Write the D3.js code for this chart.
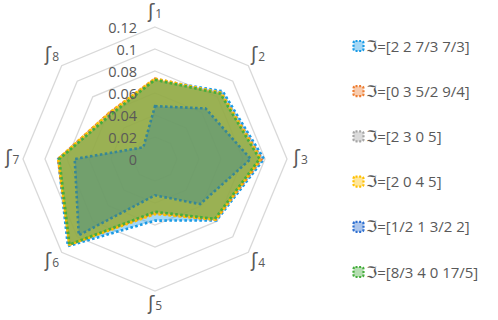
<!DOCTYPE html>
<html><head><meta charset="utf-8">
<script src="https://cdn.jsdelivr.net/npm/d3@7"></script>
<style>
html,body{margin:0;padding:0;background:#fff;}
svg{display:block;font-family:"Open Sans","Noto Sans",sans-serif;}
</style></head>
<body><svg id="c" width="498" height="320"></svg>
<script>
const axes = ["ʃ1","ʃ2","ʃ3","ʃ4","ʃ5","ʃ6","ʃ7","ʃ8"];
const ticks = [0, 0.02, 0.04, 0.06, 0.08, 0.1, 0.12];
const tickLabels = ["0","0.02","0.04","0.06","0.08","0.1","0.12"];
const seriesNames = ["ℑ=[2 2 7/3 7/3]","ℑ=[0 3 5/2 9/4]","ℑ=[2 3 0 5]","ℑ=[2 0 4 5]","ℑ=[1/2 1 3/2 2]","ℑ=[8/3 4 0 17/5]"];
const s1 = [0.072, 0.087, 0.099, 0.079, 0.056, 0.112, 0.088, 0.056];
const s2 = [0.073, 0.085, 0.097, 0.078, 0.049, 0.110, 0.088, 0.059];
const s3 = [0.072, 0.085, 0.096, 0.077, 0.049, 0.109, 0.087, 0.058];
const s4 = [0.073, 0.085, 0.096, 0.078, 0.050, 0.110, 0.088, 0.059];
const s5 = [0.048, 0.065, 0.087, 0.058, 0.033, 0.098, 0.073, 0.015];
const s6 = [0.072, 0.084, 0.095, 0.077, 0.048, 0.110, 0.087, 0.057];
const seriesValues = [s1, s2, s3, s4, s5, s6];
const colors = ["#1a9be6","#ed7d31","#a5a5a5","#ffc000","#2e6fd0","#45ad3c"];

const svg = d3.select("#c");
const cx = 155, cy = 159, R = 132;
const r = d3.scaleLinear().domain([0, 0.12]).range([0, R]);
const ang = d3.scalePoint().domain(d3.range(axes.length)).range([0, 2*Math.PI*(axes.length-1)/axes.length]);
const g = svg.append("g").attr("transform", `translate(${cx},${cy})`);
const pt = (i, v) => [r(v)*Math.sin(ang(i)), -r(v)*Math.cos(ang(i))];
const radial = d3.line().curve(d3.curveLinearClosed);

// grid rings
g.selectAll(".ring").data(ticks.slice(1)).join("path")
  .attr("d", t => radial(axes.map((a,i) => pt(i,t))))
  .attr("fill","none").attr("stroke","#d9d9d9").attr("stroke-width",1.3);

// series
seriesValues.forEach((vals, k) => {
  g.append("path")
    .attr("d", radial(vals.map((v,i) => pt(i,v))))
    .attr("fill", colors[k]).attr("fill-opacity", 0.4)
    .attr("stroke", colors[k]).attr("stroke-width", 2.6)
    .attr("stroke-dasharray", "2.6 2.4");
});

// tick labels
g.selectAll(".tl").data(ticks).join("text")
  .attr("x", -18).attr("y", t => -r(t))
  .attr("text-anchor","end").attr("dominant-baseline","central")
  .attr("fill","#595959").attr("font-size", 14.5)
  .text((t,i) => tickLabels[i]);

// axis labels
const labR = 0.1325;
const al = g.selectAll(".al").data(axes).join("text")
  .attr("x", (a,i) => pt(i, labR)[0] + (i===6 ? 3 : 0))
  .attr("y", (a,i) => pt(i, labR)[1] + 5)
  .attr("text-anchor","middle")
  .attr("fill","#595959");
al.append("tspan").attr("font-family","DejaVu Sans").attr("font-size",19).text(a => a[0]);
al.append("tspan").attr("font-size",12).attr("dx",1).text(a => a.slice(1));

// legend
const lg = svg.append("g");
const ly = d3.scalePoint().domain(d3.range(seriesNames.length)).range([46, 272]);
seriesNames.forEach((n, k) => {
  const y = ly(k);
  lg.append("rect").attr("x", 353.5).attr("y", y-5).attr("width", 10).attr("height", 10).attr("rx", 2)
    .attr("fill", colors[k]).attr("fill-opacity", 0.4)
    .attr("stroke", colors[k]).attr("stroke-width", 2.2).attr("stroke-dasharray","2 1.6");
  const t = lg.append("text").attr("x", 366).attr("y", y + 5.5)
    .attr("fill","#595959").attr("font-size", 15);
  t.append("tspan").attr("font-family","DejaVu Sans").attr("font-size",16).text(n[0]);
  t.append("tspan").text(n.slice(1));
});
</script></body></html>
